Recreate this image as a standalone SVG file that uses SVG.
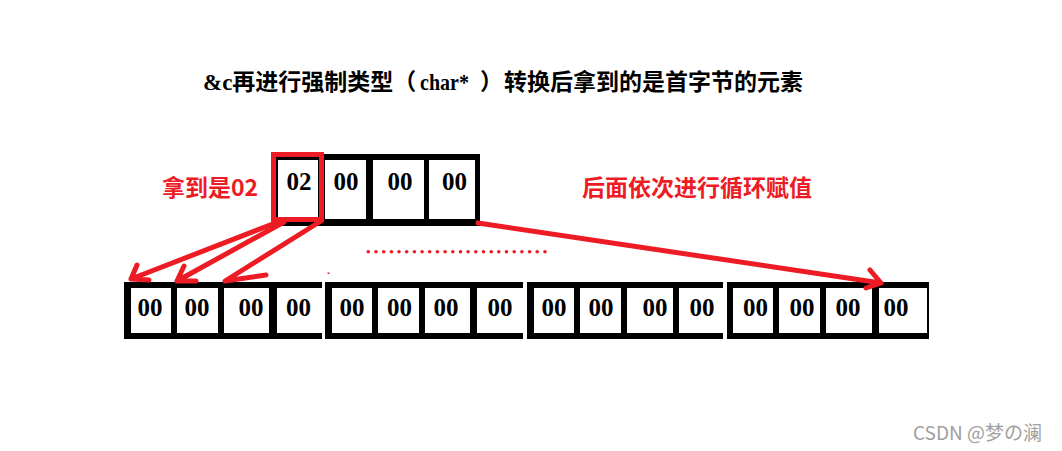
<svg xmlns="http://www.w3.org/2000/svg" width="1062" height="451" viewBox="0 0 1062 451">
<style>
.frame{fill:#000}
.cell{fill:#fff}
.num{font-family:"Liberation Serif",serif;font-weight:bold;font-size:25px;fill:#000;text-anchor:middle}
.title{font-family:"Liberation Serif","Noto Sans CJK SC",serif;font-weight:bold;font-size:23px;fill:#000}
.red{font-family:"Noto Sans CJK SC",sans-serif;font-weight:bold;font-size:23px;fill:#ed1c24}
.wm{font-family:"Noto Sans CJK SC",sans-serif;font-size:19px;fill:#a0a0a0}
.arr{fill:none;stroke:#ed1c24;stroke-width:5;stroke-linecap:round;stroke-linejoin:round}
.dot{fill:#ed1c24}
</style>
<rect width="1062" height="451" fill="#fff"/>

<g id="title">
<text class="title" y="90"><tspan x="203">&amp;c再进行强制类型（</tspan><tspan x="420" textLength="49" lengthAdjust="spacingAndGlyphs">char*</tspan><tspan x="480">）</tspan><tspan x="504">转换后拿到的是首字节的元素</tspan></text>
</g>

<g id="label-got">
<text class="red" x="162" y="196">拿到是02</text>
</g>
<g id="label-loop">
<text class="red" x="582" y="196">后面依次进行循环赋值</text>
</g>

<g id="top-row">
<rect class="frame" x="272" y="154" width="208" height="72"/>
<rect class="cell" x="278" y="160" width="40" height="59"/>
<rect class="cell" x="325" y="160" width="41" height="59"/>
<rect class="cell" x="373" y="160" width="51" height="59"/>
<rect class="cell" x="429" y="160" width="46" height="59"/>
<rect x="273.5" y="154.5" width="48" height="65" fill="none" stroke="#ed1c24" stroke-width="5"/>
<text class="num" x="299" y="190">02</text>
<text class="num" x="346" y="190">00</text>
<text class="num" x="400" y="190">00</text>
<text class="num" x="454.5" y="190">00</text>
</g>

<g id="bottom-group-1">
<rect class="frame" x="124" y="282" width="198" height="57"/>
<rect class="cell" x="131" y="288" width="40" height="45"/>
<rect class="cell" x="177" y="288" width="41" height="45"/>
<rect class="cell" x="224" y="288" width="45" height="45"/>
<rect class="cell" x="277" y="288" width="45" height="45"/>
<text class="num" x="150" y="316">00</text>
<text class="num" x="197" y="316">00</text>
<text class="num" x="251" y="316">00</text>
<text class="num" x="298.5" y="316">00</text>
</g>

<g id="bottom-group-2">
<rect class="frame" x="325" y="282" width="198" height="57"/>
<rect class="cell" x="332" y="288" width="40" height="45"/>
<rect class="cell" x="378" y="288" width="41" height="45"/>
<rect class="cell" x="425" y="288" width="45" height="45"/>
<rect class="cell" x="477" y="288" width="46" height="45"/>
<text class="num" x="352" y="316">00</text>
<text class="num" x="399.5" y="316">00</text>
<text class="num" x="446" y="316">00</text>
<text class="num" x="500" y="316">00</text>
</g>

<g id="bottom-group-3">
<rect class="frame" x="527" y="282" width="196" height="57"/>
<rect class="cell" x="534" y="288" width="40" height="45"/>
<rect class="cell" x="580" y="288" width="41" height="45"/>
<rect class="cell" x="627" y="288" width="46" height="45"/>
<rect class="cell" x="679" y="288" width="44" height="45"/>
<text class="num" x="554" y="316">00</text>
<text class="num" x="601" y="316">00</text>
<text class="num" x="655" y="316">00</text>
<text class="num" x="702" y="316">00</text>
</g>

<g id="bottom-group-4">
<rect class="frame" x="727" y="282" width="202" height="57"/>
<rect class="cell" x="733" y="288" width="40" height="45"/>
<rect class="cell" x="779" y="288" width="41" height="45"/>
<rect class="cell" x="826" y="288" width="46" height="45"/>
<rect class="cell" x="879" y="288" width="48" height="45"/>
<text class="num" x="755.5" y="316">00</text>
<text class="num" x="802" y="316">00</text>
<text class="num" x="848" y="316">00</text>
<text class="num" x="896" y="316">00</text>
</g>

<g id="ellipsis">
<circle class="dot" cx="368.3" cy="251.7" r="1.8"/><circle class="dot" cx="376" cy="251.7" r="1.8"/><circle class="dot" cx="383.7" cy="251.7" r="1.8"/><circle class="dot" cx="391.4" cy="251.7" r="1.8"/><circle class="dot" cx="399" cy="251.7" r="1.8"/><circle class="dot" cx="406.7" cy="251.7" r="1.8"/><circle class="dot" cx="414.4" cy="251.7" r="1.8"/><circle class="dot" cx="422.1" cy="251.7" r="1.8"/><circle class="dot" cx="429.7" cy="251.7" r="1.8"/><circle class="dot" cx="437.4" cy="251.7" r="1.8"/><circle class="dot" cx="445.1" cy="251.7" r="1.8"/><circle class="dot" cx="452.8" cy="251.7" r="1.8"/><circle class="dot" cx="460.5" cy="251.7" r="1.8"/><circle class="dot" cx="468.1" cy="251.7" r="1.8"/><circle class="dot" cx="475.8" cy="251.7" r="1.8"/><circle class="dot" cx="483.5" cy="251.7" r="1.8"/><circle class="dot" cx="491.2" cy="251.7" r="1.8"/><circle class="dot" cx="498.8" cy="251.7" r="1.8"/><circle class="dot" cx="506.5" cy="251.7" r="1.8"/><circle class="dot" cx="514.2" cy="251.7" r="1.8"/><circle class="dot" cx="521.9" cy="251.7" r="1.8"/><circle class="dot" cx="529.6" cy="251.7" r="1.8"/><circle class="dot" cx="537.2" cy="251.7" r="1.8"/><circle class="dot" cx="545" cy="251.7" r="1.8"/>
<rect class="dot" x="327.5" y="272.5" width="2" height="1.5"/>
</g>

<g id="connectors">
<path class="arr" d="M278 222 L131 279 M137 265 L131 279 L149 280"/>
<path class="arr" d="M284 222 L177 281 M184 266 L177 281 L196 281"/>
<path class="arr" d="M321 221 L225 281 L266 275"/>
<path class="arr" d="M478 223 L881 283 M870 270 L881 283 L866 288"/>
</g>

<g id="watermark">
<text class="wm" x="913" y="440">CSDN @梦の澜</text>
</g>
</svg>
